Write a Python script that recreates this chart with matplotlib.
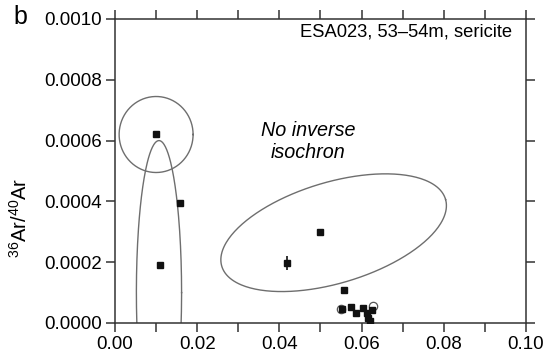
import numpy as np
import matplotlib
matplotlib.use("Agg")
import matplotlib.pyplot as plt
from matplotlib.ticker import MultipleLocator

plt.rcParams['font.family'] = ['Liberation Sans', 'DejaVu Sans']
plt.rcParams['mathtext.default'] = 'regular'

# filled squares (steps)
x_pts = [0.0100, 0.0158, 0.0109, 0.0499, 0.0418, 0.0557,
         0.0552, 0.0574, 0.0586, 0.0603, 0.0613, 0.0616, 0.0620, 0.0625]
y_pts = [0.000622, 0.000395, 0.000191, 0.000299, 0.000197, 0.000109,
         0.000046, 0.000053, 0.000033, 0.000049, 0.000033, 0.000016, 0.000008, 0.000043]
y_err = [0, 0, 0, 0, 0.000022, 0, 0, 0, 0, 0, 0, 0, 0, 0]

# open circles (excluded steps)
x_open = [0.0550, 0.0627]
y_open = [0.000047, 0.000055]

# error ellipses: centre, first and second half-axis vectors (data units)
ellipses = [
    ((0.0100, 0.00062), (0.0090, 0.0), (0.0, 0.000125)),
    ((0.0107, 0.00010), (0.0055, 0.0), (0.0, 0.00050)),
    ((0.0532, 0.000297), (0.02725, 0.000109), (-0.00328, 0.000160)),
]

fig = plt.figure(figsize=(5.49, 3.56), dpi=100)
ax = fig.add_axes([0.2095, 0.0927, 0.7485, 0.854])

t = np.linspace(0, 2 * np.pi, 300)
for c, u, v in ellipses:
    ex = c[0] + u[0] * np.cos(t) + v[0] * np.sin(t)
    ey = c[1] + u[1] * np.cos(t) + v[1] * np.sin(t)
    ax.plot(ex, ey, color='#6e6e6e', lw=1.0, zorder=2)

ax.errorbar(x_pts, y_pts, yerr=y_err, fmt='s', color='#111111', ms=5,
            elinewidth=1.2, capsize=0, zorder=4)
ax.plot(x_open, y_open, 'o', mfc='white', mec='#555555', ms=6, mew=0.9, zorder=3)

ax.set_xlim(0, 0.10)
ax.set_ylim(0, 0.0010)
ax.xaxis.set_major_locator(MultipleLocator(0.02))
ax.xaxis.set_minor_locator(MultipleLocator(0.01))
ax.yaxis.set_major_locator(MultipleLocator(0.0002))
ax.xaxis.set_major_formatter(lambda v, p: f"{v:.2f}")
ax.yaxis.set_major_formatter(lambda v, p: f"{v:.4f}")

ax.tick_params(which='both', direction='out', length=6.5, width=1.1,
               color='#333333', top=True, right=True, labelsize=13.5, pad=3)
for s in ax.spines.values():
    s.set_color('#333333')
    s.set_linewidth(1.1)

ax.set_ylabel(r'$^{36}$Ar/$^{40}$Ar', fontsize=14.5)
ax.yaxis.set_label_coords(-0.205, 0.345)

ax.text(0.966, 0.957, 'ESA023, 53–54m, sericite', transform=ax.transAxes,
        ha='right', va='center', fontsize=13.2)
ax.text(0.47, 0.597, 'No inverse\nisochron', transform=ax.transAxes,
        ha='center', va='center', fontsize=14.2, style='italic', linespacing=1.15)
fig.text(0.024, 0.951, 'b', fontsize=18, ha='left', va='center')

fig.savefig('out.png', dpi=100)
